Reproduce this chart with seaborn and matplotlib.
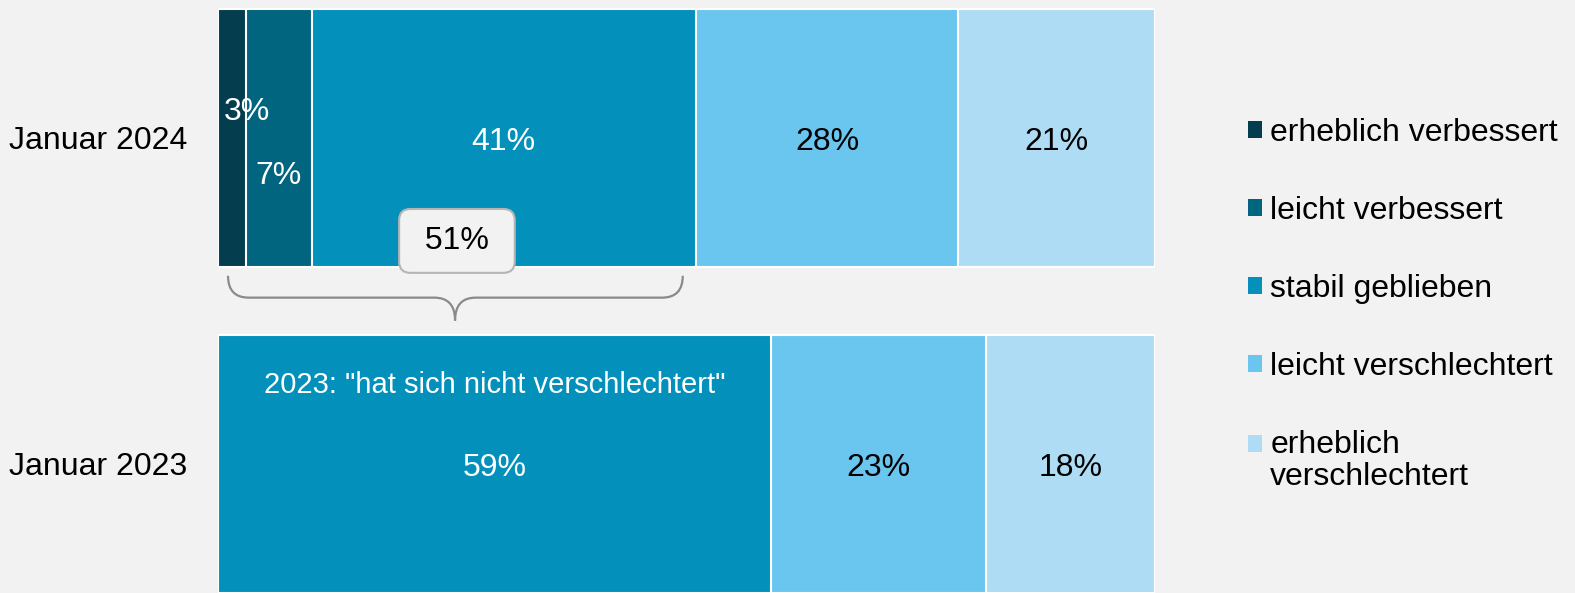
import numpy as np
import pandas as pd
import matplotlib
matplotlib.use("Agg")
import matplotlib.pyplot as plt
from matplotlib.patches import Patch, PathPatch
from matplotlib.path import Path
import seaborn as sns

# data
periods = ["Januar 2024", "Januar 2023"]
categories = ["erheblich verbessert", "leicht verbessert", "stabil geblieben",
              "leicht verschlechtert", "erheblich\nverschlechtert"]
jan_2024 = [3, 7, 41, 28, 21]
jan_2023 = [0, 0, 59, 23, 18]   # 2023: "hat sich nicht verschlechtert" = 59
note_2023 = '2023: "hat sich nicht verschlechtert"'
colors = ["#043D4E", "#02657F", "#0391BB", "#6AC5EF", "#AEDCF5"]
label_colors = ["white", "white", "white", "black", "black"]

bg = "#F2F2F2"
sns.set_theme(style="white")
plt.rcParams["font.family"] = ["Liberation Sans", "DejaVu Sans"]
fs = 23

rows = []
for period, vals in zip(periods, [jan_2024, jan_2023]):
    cum = np.cumsum(vals)
    for cat, v, c in zip(categories, vals, cum):
        rows.append({"period": period, "category": cat, "value": v, "cum": c})
df = pd.DataFrame(rows)

fig = plt.figure(figsize=(15.75, 5.93), dpi=100, facecolor=bg)
ax = fig.add_axes([218 / 1575, 0, 937 / 1575, 1])
ax.set_facecolor(bg)

# stacked bars: draw cumulative totals from the largest down
for i in reversed(range(len(categories))):
    sub = df[df["category"] == categories[i]]
    sns.barplot(data=sub, x="cum", y="period", order=periods, orient="h",
                color=colors[i], width=0.79, edgecolor="white", linewidth=1.5,
                errorbar=None, saturation=1, ax=ax)
for p in list(ax.patches):
    if p.get_width() == 0:
        p.remove()

ax.set_xlim(0, 100)
ax.set_ylim(1.396, -0.423)
ax.set_xlabel("")
ax.set_ylabel("")
ax.set_xticks([])
for s in ax.spines.values():
    s.set_visible(False)
ax.tick_params(axis="y", length=0, pad=22, labelsize=fs, labelcolor="black")
for t in ax.get_yticklabels():
    t.set_va("center_baseline")

# segment labels
offsets = {(0, 0): (15, 30), (0, 1): (0, -34)}
for r, sub in df.groupby("period", sort=False):
    yi = periods.index(r)
    for j, row in enumerate(sub.itertuples()):
        if row.value == 0:
            continue
        dx, dy = offsets.get((yi, j), (0, 0))
        ax.annotate(f"{row.value}%", (row.cum - row.value / 2, yi),
                    xytext=(dx, dy - 4), textcoords="offset pixels",
                    ha="center", va="center", fontsize=fs, color=label_colors[j])

ax.text(29.5, 0.757, note_2023, ha="center", va="center", fontsize=21, color="white")

# 51% box
total_pos = sum(jan_2024[:3])
ax.text(total_pos / 2, 0.316, f" {total_pos}% ", ha="center", va="center", fontsize=fs,
        color="black", zorder=5,
        bbox=dict(boxstyle="round,pad=0.53,rounding_size=0.35", fc=bg, ec="#B5B5B5", lw=1.5))

# curly brace under the first three segments
x0, x1, xt = 1.07, 49.6, 25.3
yt, ym, yb = 0.423, 0.49, 0.56
rx = 2.2
verts = [(x0, yt), (x0, ym), (x0 + rx, ym),
         (xt - rx, ym), (xt, ym), (xt, yb),
         (xt, ym), (xt + rx, ym),
         (x1 - rx, ym), (x1, ym), (x1, yt)]
codes = [Path.MOVETO, Path.CURVE3, Path.CURVE3,
         Path.LINETO, Path.CURVE3, Path.CURVE3,
         Path.CURVE3, Path.CURVE3,
         Path.LINETO, Path.CURVE3, Path.CURVE3]
ax.add_patch(PathPatch(Path(verts, codes), fc="none", ec="#8A8A8A", lw=1.6, clip_on=False))

# legend
handles = [Patch(facecolor=c, edgecolor="none") for c in colors]
leg = fig.legend(handles, categories, loc="upper left", bbox_to_anchor=(1248 / 1575, 1 - 118 / 593),
                 frameon=False, fontsize=fs, handlelength=0.45, handleheight=0.45,
                 handletextpad=0.25, labelspacing=1.5, borderpad=0, borderaxespad=0,
                 labelcolor="black")
for t in leg.get_texts():
    t.set_linespacing(1.12)
# put the square of the two-line entry next to its first line
last = leg.legend_handles[-1]
last.set_y(last.get_y() + 12.5)

fig.savefig("out.png", dpi=100, facecolor=bg)
